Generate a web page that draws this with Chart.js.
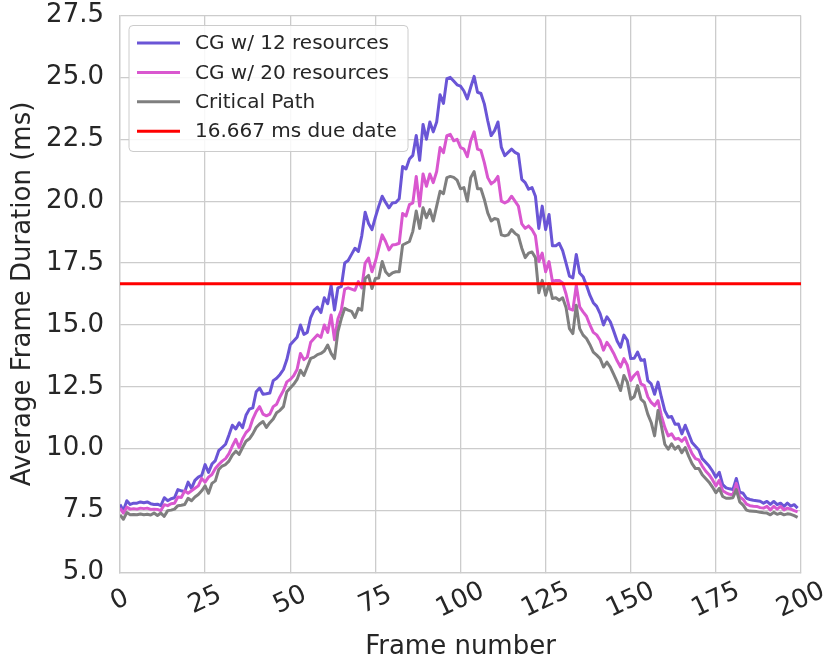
<!DOCTYPE html>
<html>
<head>
<meta charset="utf-8">
<script src="https://cdn.jsdelivr.net/npm/chart.js@4.4.1/dist/chart.umd.min.js"></script>
<style>
  html, body { margin: 0; padding: 0; background: #ffffff; }
  #wrap { width: 827px; height: 662px; }
</style>
</head>
<body>
<div id="wrap"><canvas id="c" width="827" height="662"></canvas></div>
<script>
// Average frame duration (ms) per frame, frames 0..199
const cg12 = [
  7.75, 7.50, 7.90, 7.75, 7.80, 7.80, 7.85, 7.82, 7.85, 7.78,
  7.75, 7.76, 7.70, 8.02, 7.90, 7.98, 8.02, 8.35, 8.30, 8.26,
  8.65, 8.40, 8.72, 8.85, 8.92, 9.36, 9.04, 9.38, 9.52, 9.92,
  10.05, 10.18, 10.55, 10.95, 10.80, 11.05, 10.85, 11.35, 11.60, 11.65,
  12.30, 12.45, 12.20, 12.22, 12.25, 12.75, 12.85, 13.00, 13.20, 13.60,
  14.20, 14.35, 14.50, 15.00, 14.62, 14.70, 15.30, 15.60, 15.72, 15.50,
  16.10, 15.86, 16.60, 15.60, 16.50, 16.55, 17.50, 17.60, 17.85, 18.10,
  17.97, 18.60, 19.55, 19.10, 18.85, 19.35, 19.80, 20.20, 19.95, 19.73,
  19.93, 19.95, 20.10, 21.40, 21.30, 21.70, 21.85, 22.65, 21.65, 23.10,
  22.50, 23.20, 22.80, 23.20, 24.30, 23.95, 24.95, 25.00, 24.85, 24.70,
  24.65, 24.45, 24.13, 24.60, 25.04, 24.40, 24.35, 23.93, 23.25, 22.65,
  22.85, 23.20, 22.17, 21.84, 21.97, 22.10, 21.97, 21.90, 20.88, 20.75,
  20.48, 20.55, 20.20, 18.90, 19.80, 18.85, 19.46, 18.20, 18.20, 18.30,
  18.00, 17.50, 16.97, 16.90, 17.85, 17.10, 16.95, 16.60, 16.20, 15.90,
  15.75, 15.46, 15.00, 15.33, 15.13, 14.75, 14.35, 14.10, 14.59, 14.38,
  13.64, 13.65, 13.90, 13.57, 13.60, 12.75, 12.62, 12.20, 12.69, 12.08,
  11.54, 11.27, 11.30, 10.99, 11.00, 10.60, 10.95, 10.60, 10.25, 10.10,
  9.95, 9.60, 9.45, 9.30, 9.10, 8.85, 9.05, 8.55, 8.42, 8.38,
  8.35, 8.80, 8.25, 8.20, 8.00, 7.95, 7.92, 7.90, 7.88, 7.80,
  7.87, 7.75, 7.87, 7.74, 7.80, 7.67, 7.80, 7.68, 7.74, 7.60
];

const cg20 = [
  7.60, 7.40, 7.64, 7.56, 7.58, 7.56, 7.60, 7.58, 7.60, 7.55,
  7.56, 7.55, 7.50, 7.74, 7.70, 7.78, 7.80, 8.05, 8.03, 8.30,
  8.20, 8.30, 8.40, 8.50, 8.80, 8.65, 8.85, 8.96, 9.20, 9.36,
  9.50, 9.60, 9.80, 10.11, 10.38, 10.04, 10.40, 10.65, 10.79, 11.20,
  11.50, 11.70, 11.40, 11.33, 11.40, 11.70, 11.80, 12.10, 12.35, 12.70,
  12.80, 12.95, 13.20, 13.85, 13.60, 13.70, 14.30, 14.45, 14.60, 14.50,
  15.00, 14.70, 15.40, 14.40, 15.25, 15.60, 16.45, 16.50, 16.45, 16.40,
  16.75, 16.50, 17.50, 17.70, 17.15, 17.56, 18.10, 18.64, 18.37, 18.03,
  18.23, 18.25, 18.30, 19.50, 19.40, 19.86, 19.93, 21.00, 19.80, 21.10,
  20.60, 21.10, 20.75, 21.20, 22.17, 21.96, 22.65, 22.70, 22.44, 22.50,
  22.17, 22.10, 21.80, 22.44, 22.80, 22.10, 22.05, 21.56, 20.95, 20.70,
  20.80, 21.00, 20.00, 19.93, 20.00, 20.20, 20.00, 19.80, 19.08, 18.90,
  19.00, 18.85, 18.60, 17.56, 17.90, 17.15, 17.56, 16.75, 16.80, 16.80,
  16.70, 16.25, 15.65, 15.60, 16.60, 15.73, 15.53, 15.35, 15.00, 14.70,
  14.60, 14.38, 13.98, 14.30, 14.10, 13.85, 13.55, 13.30, 13.64, 13.37,
  12.76, 12.96, 13.10, 12.62, 12.55, 12.10, 11.87, 11.74, 11.94, 11.33,
  10.86, 10.52, 10.60, 10.38, 10.42, 10.30, 10.45, 10.10, 9.80, 9.60,
  9.55, 9.30, 9.10, 8.95, 8.75, 8.50, 8.72, 8.30, 8.22, 8.16,
  8.14, 8.60, 8.05, 7.95, 7.76, 7.70, 7.68, 7.67, 7.62, 7.60,
  7.67, 7.53, 7.67, 7.56, 7.67, 7.53, 7.60, 7.56, 7.50, 7.45
];

const criticalPath = [
  7.33, 7.15, 7.42, 7.33, 7.34, 7.33, 7.36, 7.33, 7.35, 7.32,
  7.40, 7.30, 7.40, 7.27, 7.50, 7.52, 7.56, 7.70, 7.72, 7.75,
  8.00, 7.90, 8.05, 8.15, 8.30, 8.50, 8.20, 8.60, 8.70, 9.16,
  9.30, 9.36, 9.50, 9.75, 9.90, 9.77, 10.05, 10.30, 10.40, 10.60,
  10.86, 11.00, 11.10, 10.86, 11.05, 11.20, 11.45, 11.55, 11.70, 12.30,
  12.45, 12.60, 12.80, 13.17, 12.96, 13.30, 13.65, 13.70, 13.80, 13.85,
  13.95, 14.19, 13.85, 13.64, 14.73, 15.26, 15.67, 15.60, 15.55, 15.30,
  15.67, 15.60, 16.88, 17.00, 16.47, 16.88, 16.90, 17.56, 17.15, 17.00,
  17.10, 17.15, 17.15, 18.23, 18.30, 18.37, 18.78, 19.60, 18.90, 19.73,
  19.33, 19.66, 19.20, 19.80, 20.40, 20.30, 20.95, 21.00, 20.96, 20.85,
  20.50, 20.55, 20.00, 20.95, 21.20, 20.50, 20.50, 20.07, 19.53, 19.20,
  19.30, 19.26, 18.64, 18.60, 18.64, 18.85, 18.70, 18.60, 18.10, 17.72,
  17.90, 17.95, 17.72, 16.30, 16.80, 16.20, 16.66, 16.07, 16.10, 16.00,
  16.10, 15.70, 14.85, 14.65, 15.80, 14.85, 14.59, 14.45, 14.20, 13.90,
  13.78, 13.64, 13.30, 13.50, 13.30, 13.00, 12.70, 12.35, 12.96, 12.69,
  12.00, 12.10, 12.55, 12.00, 11.87, 11.40, 11.06, 10.52, 11.54, 10.92,
  10.18, 9.98, 10.20, 9.98, 10.10, 9.84, 10.05, 9.70, 9.40, 9.20,
  9.20, 8.95, 8.80, 8.65, 8.45, 8.22, 8.40, 8.07, 8.00, 8.00,
  8.02, 8.35, 7.85, 7.72, 7.52, 7.48, 7.47, 7.46, 7.43, 7.41,
  7.40, 7.33, 7.43, 7.35, 7.40, 7.33, 7.37, 7.35, 7.30, 7.23
];

const dueDate = 16.667;
const dueDateSpan = [0, 200];

const xTicks = [0, 25, 50, 75, 100, 125, 150, 175, 200];
const yTicks = [5.0, 7.5, 10.0, 12.5, 15.0, 17.5, 20.0, 22.5, 25.0, 27.5];

const seriesLabels = ['CG w/ 12 resources', 'CG w/ 20 resources', 'Critical Path', '16.667 ms due date'];

const FONT = '"DejaVu Sans", sans-serif';
const INK = '#262626';
const GRID = '#cccccc';

const toPoints = arr => arr.map((v, i) => ({ x: i, y: v }));

// white page behind the canvas content
const whiteBg = {
  id: 'whiteBg',
  beforeDraw(chart) {
    const { ctx, width, height } = chart;
    ctx.save();
    ctx.fillStyle = '#ffffff';
    ctx.fillRect(0, 0, width, height);
    ctx.restore();
  }
};

// rotated frame-number labels, centred under each tick
const xLabels = {
  id: 'xLabels',
  afterDraw(chart) {
    const { ctx, scales: { x }, chartArea } = chart;
    ctx.save();
    ctx.font = '26px ' + FONT;
    ctx.fillStyle = INK;
    ctx.textAlign = 'center';
    ctx.textBaseline = 'middle';
    xTicks.forEach(v => {
      const px = x.getPixelForValue(v);
      ctx.save();
      ctx.translate(px, chartArea.bottom + 28);
      ctx.rotate(-25 * Math.PI / 180);
      ctx.fillText(String(v), 0, 0);
      ctx.restore();
    });
    ctx.restore();
  }
};

// framed legend in the upper-left corner of the plot
const boxLegend = {
  id: 'boxLegend',
  afterDraw(chart) {
    const { ctx, chartArea } = chart;
    const x0 = chartArea.left + 9, y0 = chartArea.top + 10;
    const w = 279, h = 126, r = 4;
    ctx.save();
    ctx.beginPath();
    ctx.moveTo(x0 + r, y0);
    ctx.arcTo(x0 + w, y0, x0 + w, y0 + h, r);
    ctx.arcTo(x0 + w, y0 + h, x0, y0 + h, r);
    ctx.arcTo(x0, y0 + h, x0, y0, r);
    ctx.arcTo(x0, y0, x0 + w, y0, r);
    ctx.closePath();
    ctx.fillStyle = 'rgba(255,255,255,0.85)';
    ctx.fill();
    ctx.strokeStyle = GRID;
    ctx.lineWidth = 1;
    ctx.stroke();
    ctx.font = '20px ' + FONT;
    ctx.textBaseline = 'middle';
    ctx.textAlign = 'left';
    chart.data.datasets.forEach((ds, i) => {
      const cy = y0 + 17.5 + i * 29.4;
      ctx.strokeStyle = ds.borderColor;
      ctx.lineWidth = 3;
      ctx.beginPath();
      ctx.moveTo(x0 + 8, cy);
      ctx.lineTo(x0 + 51, cy);
      ctx.stroke();
      ctx.fillStyle = INK;
      ctx.fillText(ds.label, x0 + 66, cy + 1);
    });
    ctx.restore();
  }
};

new Chart(document.getElementById('c'), {
  type: 'line',
  data: {
    datasets: [
      { label: seriesLabels[0], data: toPoints(cg12), borderColor: '#6a55d6', order: 3 },
      { label: seriesLabels[1], data: toPoints(cg20), borderColor: '#d957cf', order: 2 },
      { label: seriesLabels[2], data: toPoints(criticalPath), borderColor: '#7f7f7f', order: 1 },
      { label: seriesLabels[3], data: dueDateSpan.map(f => ({ x: f, y: dueDate })), borderColor: '#ff0000', order: 0 }
    ]
  },
  options: {
    responsive: false,
    animation: false,
    devicePixelRatio: 1,
    layout: { padding: { top: 0, right: 26, bottom: -3.5, left: 0 } },
    elements: {
      point: { radius: 0 },
      line: { borderWidth: 3, tension: 0, borderCapStyle: 'butt', borderJoinStyle: 'round' }
    },
    plugins: { legend: { display: false }, tooltip: { enabled: false } },
    scales: {
      x: {
        type: 'linear',
        min: xTicks[0],
        max: xTicks[xTicks.length - 1],
        ticks: { stepSize: 25, display: false },
        grid: { color: GRID, lineWidth: 1.3, tickLength: 0 },
        border: { color: GRID, width: 1.3 },
        title: {
          display: true, text: 'Frame number', color: INK,
          font: { family: FONT, size: 26 }, padding: { top: 0, bottom: 3 }
        },
        afterFit(scale) { scale.height = 93; }
      },
      y: {
        min: yTicks[0],
        max: yTicks[yTicks.length - 1],
        ticks: {
          stepSize: 2.5, color: INK, padding: 16,
          font: { family: FONT, size: 26 },
          callback: v => Number(v).toFixed(1)
        },
        grid: { color: GRID, lineWidth: 1.3, tickLength: 0 },
        border: { color: GRID, width: 1.3 },
        title: {
          display: true, text: 'Average Frame Duration (ms)', color: INK,
          font: { family: FONT, size: 26 }, padding: { top: 8, bottom: 0 }
        },
        afterFit(scale) {
          scale.width = 120;
          scale.paddingTop = 15.5;
          scale.paddingBottom = 0;
        }
      }
    }
  },
  plugins: [whiteBg, xLabels, boxLegend]
});
</script>
</body>
</html>
